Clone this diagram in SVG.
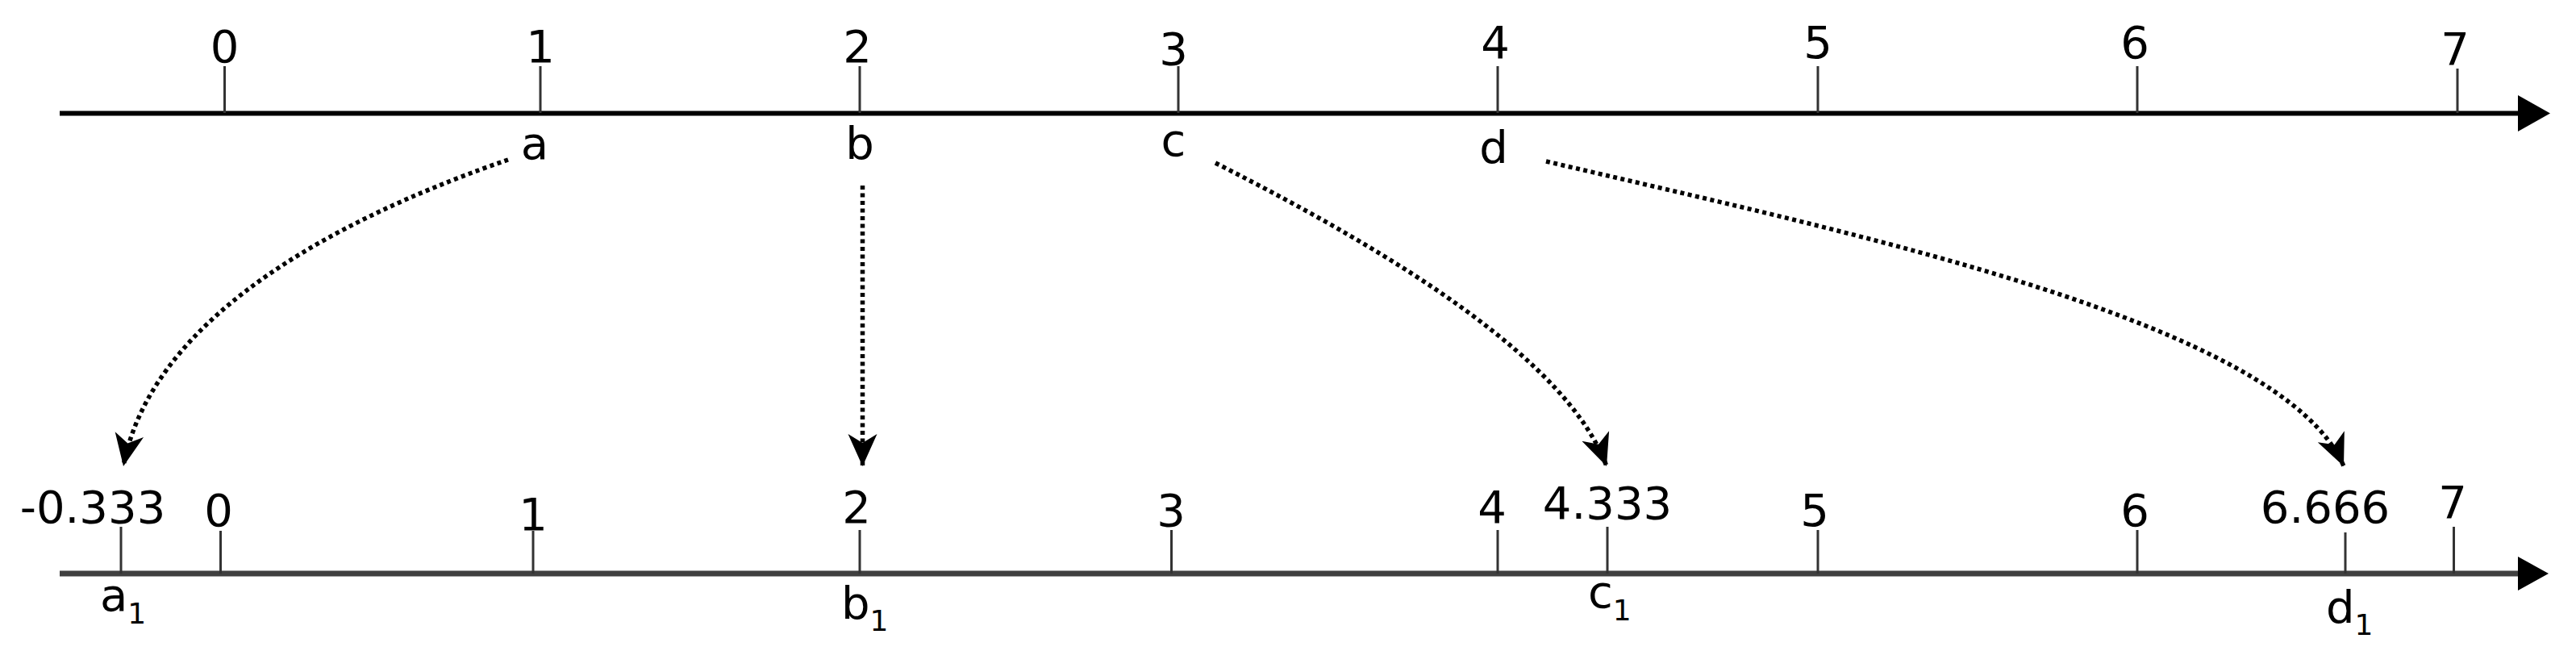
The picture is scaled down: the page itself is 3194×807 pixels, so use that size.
<svg xmlns="http://www.w3.org/2000/svg" width="3194" height="807" viewBox="0 0 3194 807">
<style>
  text { font-family: "DejaVu Sans", "Liberation Sans", sans-serif; fill: #000; }
  .num { font-size: 56px; text-anchor: middle; }
  .let { font-size: 56px; text-anchor: middle; }
  .lets { font-size: 56px; }
  .sub { font-size: 36px; }
  .tick { stroke: #333; stroke-width: 3; }
  .dot { fill: none; stroke: #000; stroke-width: 5.5; stroke-dasharray: 5 4.5; marker-end: url(#notch); }
</style>
<defs>
  <marker id="notch" markerUnits="userSpaceOnUse" markerWidth="40" markerHeight="40" viewBox="0 0 40 40" refX="40" refY="20" orient="auto">
    <path d="M0,2 L40,20 L0,38 L11,20 Z" fill="#000"/>
  </marker>
</defs>
<rect width="3194" height="807" fill="#fff"/>

<g id="top-axis">
  <line x1="74" y1="140.5" x2="3126" y2="140.5" stroke="#000" stroke-width="6"/>
  <polygon points="3122,118 3162,140.5 3122,163" fill="#000"/>
  <line class="tick" x1="278.5" y1="82" x2="278.5" y2="140"/>
  <line class="tick" x1="670" y1="82" x2="670" y2="140"/>
  <line class="tick" x1="1066" y1="82" x2="1066" y2="140"/>
  <line class="tick" x1="1461" y1="82" x2="1461" y2="140"/>
  <line class="tick" x1="1857" y1="82" x2="1857" y2="140"/>
  <line class="tick" x1="2254" y1="82" x2="2254" y2="140"/>
  <line class="tick" x1="2650" y1="82" x2="2650" y2="140"/>
  <line class="tick" x1="3047" y1="85" x2="3047" y2="140"/>
  <text class="num" x="278.5" y="77">0</text>
  <text class="num" x="670" y="77">1</text>
  <text class="num" x="1063" y="77">2</text>
  <text class="num" x="1455" y="80">3</text>
  <text class="num" x="1854" y="72">4</text>
  <text class="num" x="2254" y="72">5</text>
  <text class="num" x="2647" y="72">6</text>
  <text class="num" x="3044" y="80">7</text>
</g>

<g id="node-a"><text class="let" x="663" y="197">a</text></g>
<g id="node-b"><text class="let" x="1066" y="197">b</text></g>
<g id="node-c"><text class="let" x="1455" y="193">c</text></g>
<g id="node-d"><text class="let" x="1852" y="202">d</text></g>

<g id="bottom-axis">
  <line x1="74" y1="711" x2="3126" y2="711" stroke="#404040" stroke-width="7"/>
  <polygon points="3122,690 3160,711 3122,732" fill="#000"/>
  <line class="tick" x1="150" y1="653" x2="150" y2="711"/>
  <line class="tick" x1="273.5" y1="658" x2="273.5" y2="711"/>
  <line class="tick" x1="661" y1="658" x2="661" y2="711"/>
  <line class="tick" x1="1066" y1="657" x2="1066" y2="711"/>
  <line class="tick" x1="1452.5" y1="657" x2="1452.5" y2="711"/>
  <line class="tick" x1="1857" y1="657" x2="1857" y2="711"/>
  <line class="tick" x1="1993" y1="653" x2="1993" y2="711"/>
  <line class="tick" x1="2254" y1="657" x2="2254" y2="711"/>
  <line class="tick" x1="2650" y1="657" x2="2650" y2="711"/>
  <line class="tick" x1="2908" y1="660" x2="2908" y2="711"/>
  <line class="tick" x1="3042.5" y1="653" x2="3042.5" y2="711"/>
  <text class="num" x="115" y="648">-0.333</text>
  <text class="num" x="271" y="652">0</text>
  <text class="num" x="661" y="657">1</text>
  <text class="num" x="1062" y="648">2</text>
  <text class="num" x="1452" y="652">3</text>
  <text class="num" x="1850" y="648">4</text>
  <text class="num" x="1993" y="643">4.333</text>
  <text class="num" x="2250" y="652">5</text>
  <text class="num" x="2647" y="652">6</text>
  <text class="num" x="2883" y="648">6.666</text>
  <text class="num" x="3041" y="642">7</text>
</g>

<g id="node-a1"><text class="lets" x="124" y="757">a<tspan class="sub" dy="16">1</tspan></text></g>
<g id="node-b1"><text class="lets" x="1043" y="767">b<tspan class="sub" dy="15">1</tspan></text></g>
<g id="node-c1"><text class="lets" x="1969" y="753">c<tspan class="sub" dy="16">1</tspan></text></g>
<g id="node-d1"><text class="lets" x="2884" y="772">d<tspan class="sub" dy="15">1</tspan></text></g>

<g id="connectors">
  <path class="dot" d="M630,198 C450,260 190,380 153,578"/>
  <path class="dot" d="M1069.5,230 L1069.5,578"/>
  <path class="dot" d="M1507,202 C1740,320 1945,450 1992,578"/>
  <path class="dot" d="M1917,200 C2300,290 2830,400 2906,578"/>
</g>
</svg>
